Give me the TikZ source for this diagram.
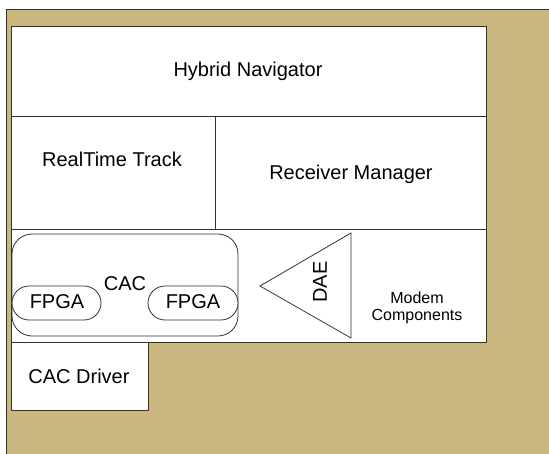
\documentclass[tikz,border=0pt]{standalone}
\usepackage{fontspec}
\setmainfont{Liberation Sans}
\usepackage{tikz}
\definecolor{tan}{RGB}{201,183,127}
\definecolor{edge}{RGB}{50,50,50}
\tikzstyle{box} = [draw=edge, fill=white, line width=0.8pt]
\tikzstyle{lbl} = [anchor=base, inner sep=0pt, font=\fontsize{20}{24}\selectfont]
\tikzstyle{small} = [anchor=base, inner sep=0pt, align=center, font=\fontsize{16}{17}\selectfont]

\begin{document}
\begin{tikzpicture}[x=1pt, y=-1pt]
  \useasboundingbox (0,0) rectangle (549,454);
  \fill[tan] (6,9) rectangle (549,454);
  \draw[edge, line width=0.8pt] (6,454) -- (6,9) -- (549,9);

  % layers
  \filldraw[box] (11,26) rectangle (486,116);
  \filldraw[box] (11,116) rectangle (215,229);
  \filldraw[box] (215,116) rectangle (486,229);
  \filldraw[box] (11,229) rectangle (486,342);
  \filldraw[box] (11,342) rectangle (148,410);

  \node[lbl] (hybrid) at (248,77) {Hybrid Navigator};
  \node[lbl] (track) at (112,167) {RealTime Track};
  \node[lbl] (receiver) at (351,180) {Receiver Manager};
  \node[lbl] (driver) at (79,383) {CAC Driver};

  % CAC with its two FPGAs
  \draw[box, rounded corners=20pt] (12,234) rectangle (238,336);
  \draw[box, rounded corners=17pt] (12,286) rectangle (101,320);
  \draw[box, rounded corners=17pt] (148,286) rectangle (238,320);
  \node[lbl] (cac) at (125,291) {CAC};
  \node[lbl] (fpgaA) at (57,309) {FPGA};
  \node[lbl] (fpgaB) at (193,309) {FPGA};

  % DAE
  \draw[box] (260,286) -- (351,233) -- (351,338) -- cycle;
  \node[inner sep=0pt, rotate=90, font=\fontsize{20}{24}\selectfont] (dae) at (320,282) {DAE};

  \node[small] (modem) at (417,304) {Modem};
  \node[small] (components) at (417,321) {Components};

\end{tikzpicture}
\end{document}
